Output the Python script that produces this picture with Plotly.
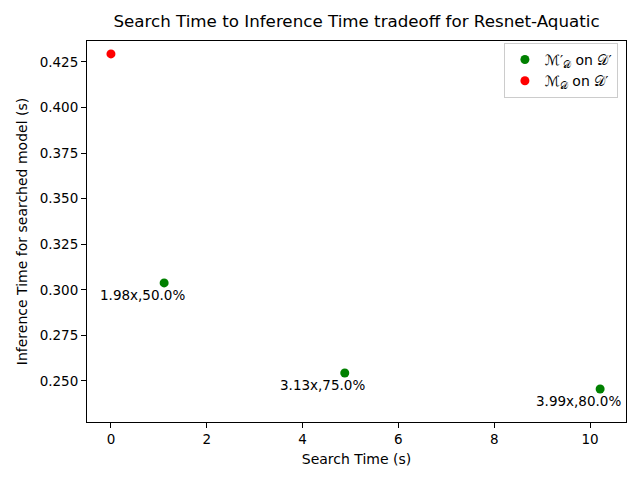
import plotly.graph_objects as go

# Data
green_x = [1.11, 4.88, 10.21]
green_y = [0.3038, 0.2544, 0.2456]
green_labels = ["1.98x,50.0%", "3.13x,75.0%", "3.99x,80.0%"]
red_x = [0.0]
red_y = [0.4294]

font = "DejaVu Sans"
W, H = 632, 472  # page body has an 8px margin
fig = go.Figure()
fig.add_trace(go.Scatter(x=green_x, y=green_y, mode="markers",
                         marker=dict(color="#008000", size=9),
                         name="ℳ′<sub>𝒟</sub> on 𝒟′"))
fig.add_trace(go.Scatter(x=red_x, y=red_y, mode="markers",
                         marker=dict(color="#ff0000", size=9),
                         name="ℳ<sub>𝒟</sub> on 𝒟′"))
for x, y, t in zip(green_x, green_y, green_labels):
    fig.add_annotation(x=x, y=y, text=t, showarrow=False, xshift=-22, yshift=-12,
                       font=dict(family=font, size=13.5, color="black"))

axis_common = dict(showline=True, linecolor="black", linewidth=1, mirror=True,
                   ticks="outside", ticklen=5, tickcolor="black", showgrid=False,
                   zeroline=False, automargin=False,
                   tickfont=dict(family=font, size=13.5, color="black"))
fig.update_layout(
    width=W, height=H,
    margin=dict(l=79, r=14, t=33, b=58),
    paper_bgcolor="white", plot_bgcolor="white",
    title=dict(text="Search Time to Inference Time tradeoff for Resnet-Aquatic",
               x=0.5, xref="paper", y=1 - 13 / H, yref="container", yanchor="middle",
               font=dict(family=font, size=16.7, color="black"), automargin=False),
    xaxis=dict(range=[-0.5, 10.75], tickvals=[0, 2, 4, 6, 8, 10],
               title=dict(text="Search Time (s)", font=dict(family=font, size=14, color="black"), standoff=7),
               **axis_common),
    yaxis=dict(range=[0.2275, 0.4365], tickvals=[0.25, 0.275, 0.3, 0.325, 0.35, 0.375, 0.4, 0.425],
               tickformat=".3f",
               title=dict(text="Inference Time for searched model (s)", font=dict(family=font, size=14, color="black"), standoff=8),
               **axis_common),
    legend=dict(x=0.985, y=0.995, xanchor="right", yanchor="top",
                bordercolor="#cccccc", borderwidth=1, bgcolor="white",
                font=dict(family=font, size=14, color="black"), tracegroupgap=4),
)
fig.write_html("out.html")
